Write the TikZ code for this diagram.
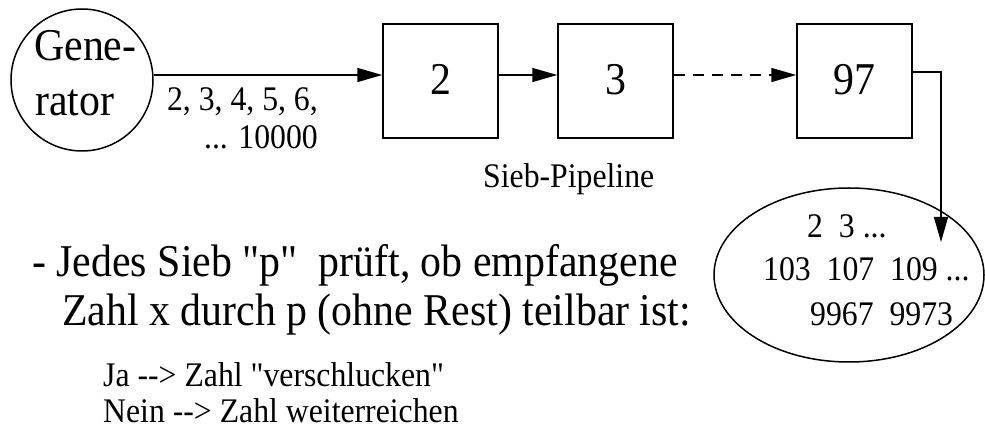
\documentclass[tikz,border=0pt]{standalone}
\usepackage{fontspec}
\setmainfont{Liberation Serif}[Ligatures=TeXOff,FakeStretch=0.92]
\usetikzlibrary{arrows.meta,shapes.geometric}
\tikzset{
  ln/.style={line width=1.5pt},
  box/.style={ln, draw, minimum width=115pt, minimum height=114pt, inner sep=0pt},
  arr/.style={ln, -{Triangle[length=25pt,width=14pt]}},
  big/.style={font=\fontsize{45.5}{45.5}\selectfont, inner sep=0pt},
  mid/.style={font=\fontsize{34.5}{34.5}\selectfont, inner sep=0pt},
}
\begin{document}
\begin{tikzpicture}[x=1pt,y=-1pt]
\useasboundingbox (0,0) rectangle (985,435);
% generator
\node[ln, draw, circle, minimum size=142pt, inner sep=0pt] (gen) at (82,80) {};
\node[big, anchor=base west] (gen1) at (34,61) {Gene-};
\node[big, anchor=base west] (gen2) at (35,116) {rator};
% boxes
\node[box] (b2) at (440.5,81) {};
\node[box] (b3) at (615.5,81) {};
\node[box] (b97) at (854.5,81) {};
\node[big, anchor=base] (t2) at (440.5,95) {2};
\node[big, anchor=base] (t3) at (615.5,95) {3};
\node[big, anchor=base] (t97) at (854.5,95) {97};
% connectors
\draw[arr] (gen.east |- 0,75) -- (b2.west |- 0,75);
\draw[arr] (b2.east |- 0,75) -- (b3.west |- 0,75);
\draw[arr, dash pattern=on 11pt off 8pt] (b3.east |- 0,75) -- (b97.west |- 0,75);
% result ellipse
\node[ln, draw, ellipse, minimum width=270pt, minimum height=174pt, inner sep=0pt] (res) at (849,275) {};
\coordinate (tip) at (941,242);
\draw[arr] (b97.east |- 0,72) -| (tip);
% labels
\node[mid, anchor=base east] (l1) at (318,111) {2, 3, 4, 5, 6,};
\node[mid, anchor=base east] (l2) at (318,149) {... 10000};
\node[mid, anchor=base west] (sp) at (483,188) {Sieb-Pipeline};
\node[mid, anchor=base west] (e1) at (807,238) {2\ \ 3 ...};
\node[mid, anchor=base west] (e2) at (763,281) {103\ \ 107\ \ 109 ...};
\node[mid, anchor=base west] (e3) at (810,326) {9967\ \ 9973};
% bottom text
\node[big, anchor=base west] (r1) at (32,277) {- Jedes Sieb "p"\ \ prüft, ob empfangene};
\node[big, anchor=base west] (r2) at (62,326) {Zahl x durch p (ohne Rest) teilbar ist:};
\node[mid, anchor=base west] (r3) at (103,386) {Ja --> Zahl "verschlucken"};
\node[mid, anchor=base west] (r4) at (103,422) {Nein --> Zahl weiterreichen};
\end{tikzpicture}
\end{document}
